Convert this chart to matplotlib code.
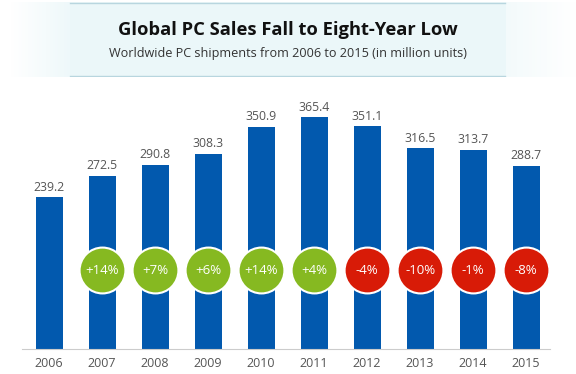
import matplotlib
matplotlib.use("Agg")
import matplotlib.pyplot as plt
import numpy as np

# data
years = ["2006", "2007", "2008", "2009", "2010", "2011", "2012", "2013", "2014", "2015"]
shipments = [239.2, 272.5, 290.8, 308.3, 350.9, 365.4, 351.1, 316.5, 313.7, 288.7]
changes = ["+14%", "+7%", "+6%", "+14%", "+4%", "-4%", "-10%", "-1%", "-8%"]

BLUE = "#0259ae"
GREEN = "#86b921"
RED = "#d81b07"

plt.rcParams["font.family"] = ["Open Sans", "DejaVu Sans"]

W, H = 576, 374
fig = plt.figure(figsize=(W / 100, H / 100), dpi=100)
fig.patch.set_facecolor("white")

# header band: light box between the two lines, fading out at both sides
hdr = fig.add_axes([0, 1 - 77 / H, 1, 75 / H])
hdr.set_axis_off()
px = np.arange(W)
alpha = np.ones(W)
alpha[px < 70] = np.clip((px[px < 70] - 10) / 60.0, 0, 1) * 0.85
alpha[px > 505] = np.clip((576 - px[px > 505]) / 71.0, 0, 1) * 0.6
img = np.zeros((2, W, 4))
img[..., 0] = 0.925
img[..., 1] = 0.972
img[..., 2] = 0.98
img[..., 3] = alpha
hdr.imshow(img, aspect="auto", extent=[0, W, 0, 1])
hdr.set_xlim(0, W)
hdr.set_ylim(0, 1)
hdr.plot([70, 505], [0.985, 0.985], color="#b8d6df", lw=1)
hdr.plot([70, 505], [0.015, 0.015], color="#b8d6df", lw=1)

fig.text(0.5, 1 - 35 / H, "Global PC Sales Fall to Eight-Year Low", ha="center", va="baseline",
         fontsize=13.2, fontweight="bold", color="#111111")
fig.text(0.5, 1 - 57 / H, "Worldwide PC shipments from 2006 to 2015 (in million units)", ha="center",
         va="baseline", fontsize=9.1, color="#333333")

# main chart
ax = fig.add_axes([22 / W, (H - 349) / H, 528 / W, (349 - 80) / H])
x = np.arange(len(years))
ax.bar(x, shipments, width=0.51, color=BLUE, zorder=2)
for xi, v in zip(x, shipments):
    ax.text(xi, v + 6, f"{v:.1f}", ha="center", va="bottom", fontsize=8.8, color="#555555")

circle_y = 124.6
for xi, c in zip(x[1:], changes):
    col = GREEN if c.startswith("+") else RED
    ax.scatter(xi, circle_y, s=1090, color=col, edgecolors="white", linewidths=1.5, zorder=3)
    ax.text(xi, circle_y, c, ha="center", va="center", fontsize=9.5, color="white", zorder=4)

ax.set_xlim(-0.51, 9.45)
ax.set_ylim(0, 424.3)
for s in ["top", "right", "left"]:
    ax.spines[s].set_visible(False)
ax.spines["bottom"].set_color("#cccccc")
ax.set_yticks([])
ax.set_xticks(x)
ax.set_xticklabels(years, fontsize=9, color="#555555")
ax.tick_params(axis="x", length=0, pad=6)
ax.patch.set_alpha(0)

plt.savefig("out.png", dpi=100)
